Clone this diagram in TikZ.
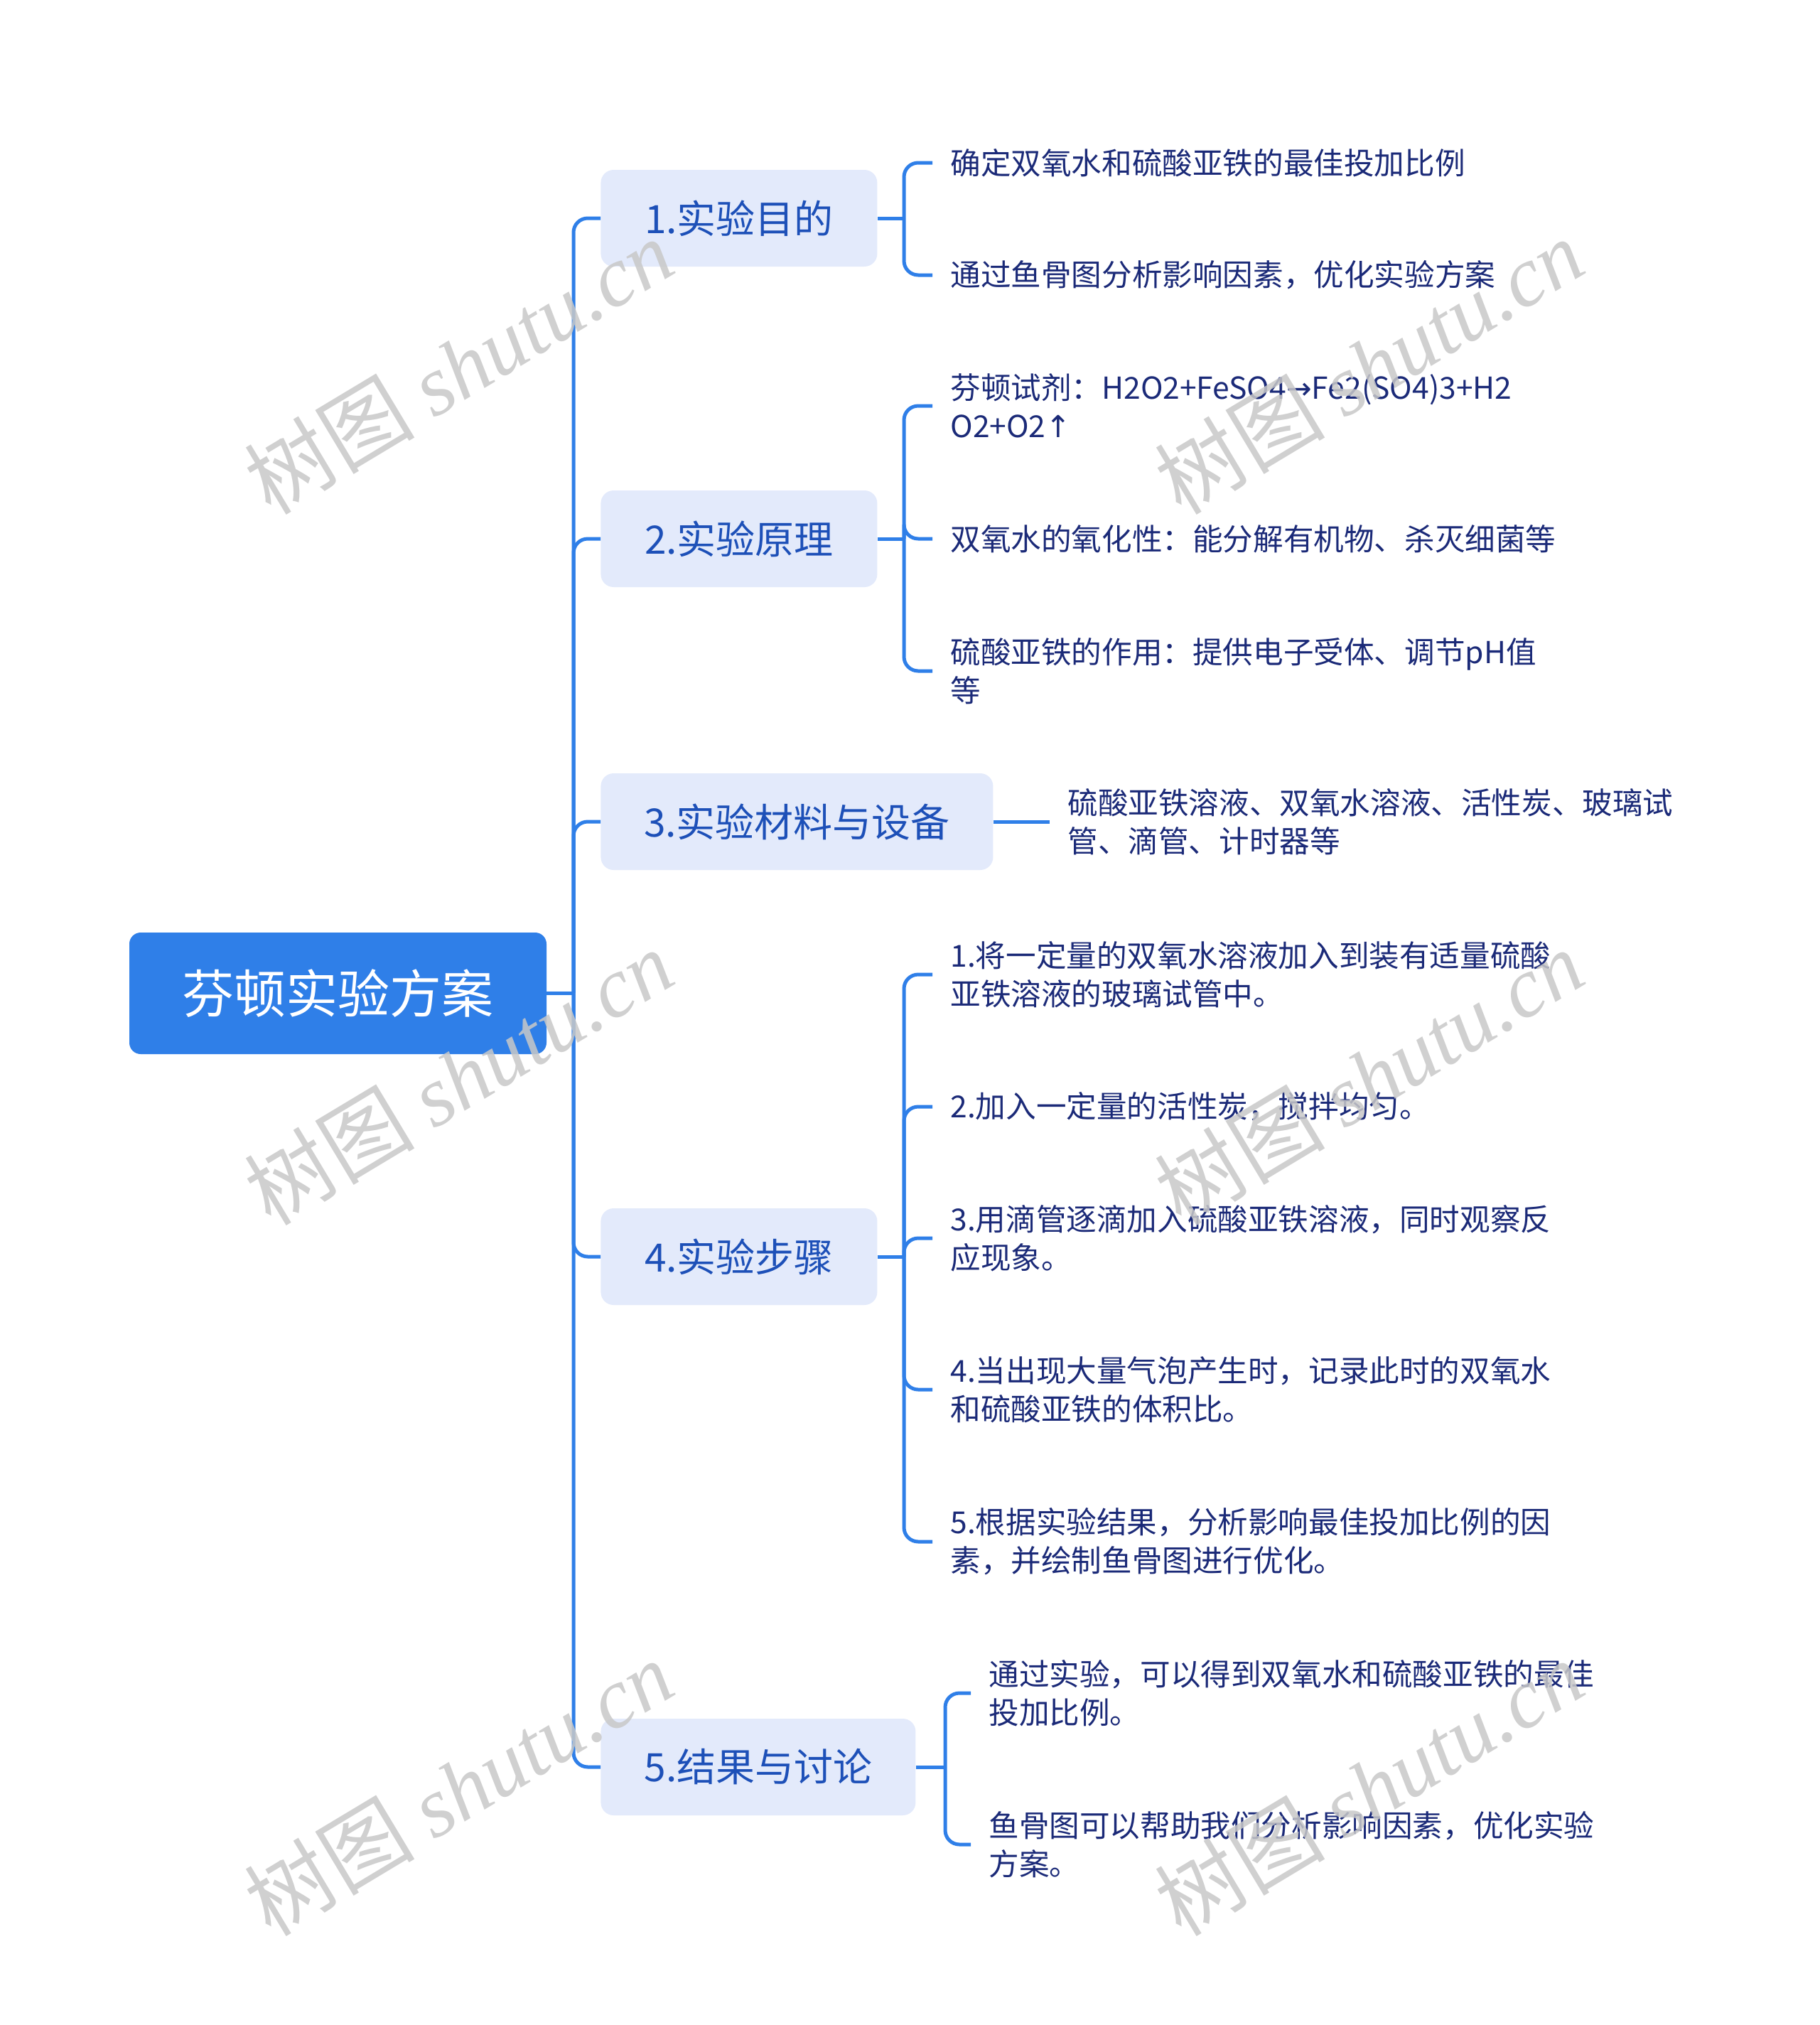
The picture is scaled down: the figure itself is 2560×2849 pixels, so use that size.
\documentclass[tikz,border=0pt]{standalone}
\usepackage{fontspec}
\setmainfont{Noto Sans CJK SC}
\newfontfamily\wmserif{Liberation Serif}
\newfontfamily\arrowfont{DejaVu Sans}
\definecolor{mainblue}{HTML}{2F7FE8}
\definecolor{boxfill}{HTML}{E3EAFB}
\definecolor{topictext}{HTML}{1D50B8}
\definecolor{leaftext}{HTML}{1B2A78}
\definecolor{wmgray}{HTML}{C8C8C8}
\begin{document}
\begin{tikzpicture}[x=0.5pt,y=-0.5pt,
  rootbox/.style={fill=mainblue, rounded corners=8pt, text=white,
    font=\fontsize{36.5pt}{44pt}\selectfont, minimum width=293.5pt,
    minimum height=85.5pt, inner sep=0pt},
  topic/.style={fill=boxfill, rounded corners=9pt, text=topictext,
    font=\fontsize{27.5pt}{33pt}\selectfont, minimum height=68pt,
    inner sep=0pt, anchor=west},
  leaf/.style={text=leaftext, font=\fontsize{21.3pt}{27pt}\selectfont,
    align=left, anchor=west, inner xsep=12.5pt, inner ysep=0pt},
  conn/.style={draw=mainblue, line width=2.5pt, rounded corners=10pt},
  wm/.style={text=wmgray, opacity=0.85, font=\fontsize{60pt}{70pt}\selectfont, rotate=31}
]
\useasboundingbox (0,0) rectangle (2560,2849);

% root
\node[rootbox] (root) at (475.5,1397.5) {芬顿实验方案};

% topics
\node[topic, minimum width=194.5pt] (b1) at (845,307) {1.实验目的};
\node[topic, minimum width=194.5pt] (b2) at (845,758) {2.实验原理};
\node[topic, minimum width=276pt]   (b3) at (845,1156) {3.实验材料与设备};
\node[topic, minimum width=194.5pt] (b4) at (845,1768) {4.实验步骤};
\node[topic, minimum width=221.5pt] (b5) at (845,2486) {5.结果与讨论};

% leaves
\node[leaf] (l11) at (1312,229) {确定双氧水和硫酸亚铁的最佳投加比例};
\node[leaf] (l12) at (1312,387) {通过鱼骨图分析影响因素，优化实验方案};

\node[leaf] (l21) at (1312,571) {芬顿试剂：H2O2+FeSO4{\arrowfont →}Fe2(SO4)3+H2\\O2+O2{\arrowfont ↑}};
\node[leaf] (l22) at (1312,758) {双氧水的氧化性：能分解有机物、杀灭细菌等};
\node[leaf] (l23) at (1312,944) {硫酸亚铁的作用：提供电子受体、调节pH值\\等};

\node[leaf] (l31) at (1477,1156) {硫酸亚铁溶液、双氧水溶液、活性炭、玻璃试\\管、滴管、计时器等};

\node[leaf] (l41) at (1312,1371) {1.将一定量的双氧水溶液加入到装有适量硫酸\\亚铁溶液的玻璃试管中。};
\node[leaf] (l42) at (1312,1557) {2.加入一定量的活性炭，搅拌均匀。};
\node[leaf] (l43) at (1312,1742) {3.用滴管逐滴加入硫酸亚铁溶液，同时观察反\\应现象。};
\node[leaf] (l44) at (1312,1955) {4.当出现大量气泡产生时，记录此时的双氧水\\和硫酸亚铁的体积比。};
\node[leaf] (l45) at (1312,2169) {5.根据实验结果，分析影响最佳投加比例的因\\素，并绘制鱼骨图进行优化。};

\node[leaf] (l51) at (1366,2382) {通过实验，可以得到双氧水和硫酸亚铁的最佳\\投加比例。};
\node[leaf] (l52) at (1366,2595) {鱼骨图可以帮助我们分析影响因素，优化实验\\方案。};

% trunk connectors
\coordinate (tr) at (807,1397.5);
\draw[conn] (root.east) -- (tr);
\foreach \b in {b1,b2,b3,b4,b5} { \draw[conn] (tr) |- (\b.west); }

% brackets
\coordinate (k1) at (1272,307);
\draw[conn] (b1.east) -- (k1);
\foreach \l in {l11,l12} { \draw[conn] (k1) |- (\l.west); }

\coordinate (k2) at (1272,758);
\draw[conn] (b2.east) -- (k2);
\foreach \l in {l21,l22,l23} { \draw[conn] (k2) |- (\l.west); }

\draw[conn] (b3.east) -- (l31.west);

\coordinate (k4) at (1272,1768);
\draw[conn] (b4.east) -- (k4);
\foreach \l in {l41,l42,l43,l44,l45} { \draw[conn] (k4) |- (\l.west); }

\coordinate (k5) at (1330,2486);
\draw[conn] (b5.east) -- (k5);
\foreach \l in {l51,l52} { \draw[conn] (k5) |- (\l.west); }

% watermarks
\foreach \wx/\wy [count=\i] in {645/515, 1926/515, 645/1515, 1926/1515, 645/2515, 1926/2515} {
  \node[wm] (wm\i) at (\wx,\wy) {树图 {\wmserif\itshape shutu.cn}};
}
\end{tikzpicture}
\end{document}
